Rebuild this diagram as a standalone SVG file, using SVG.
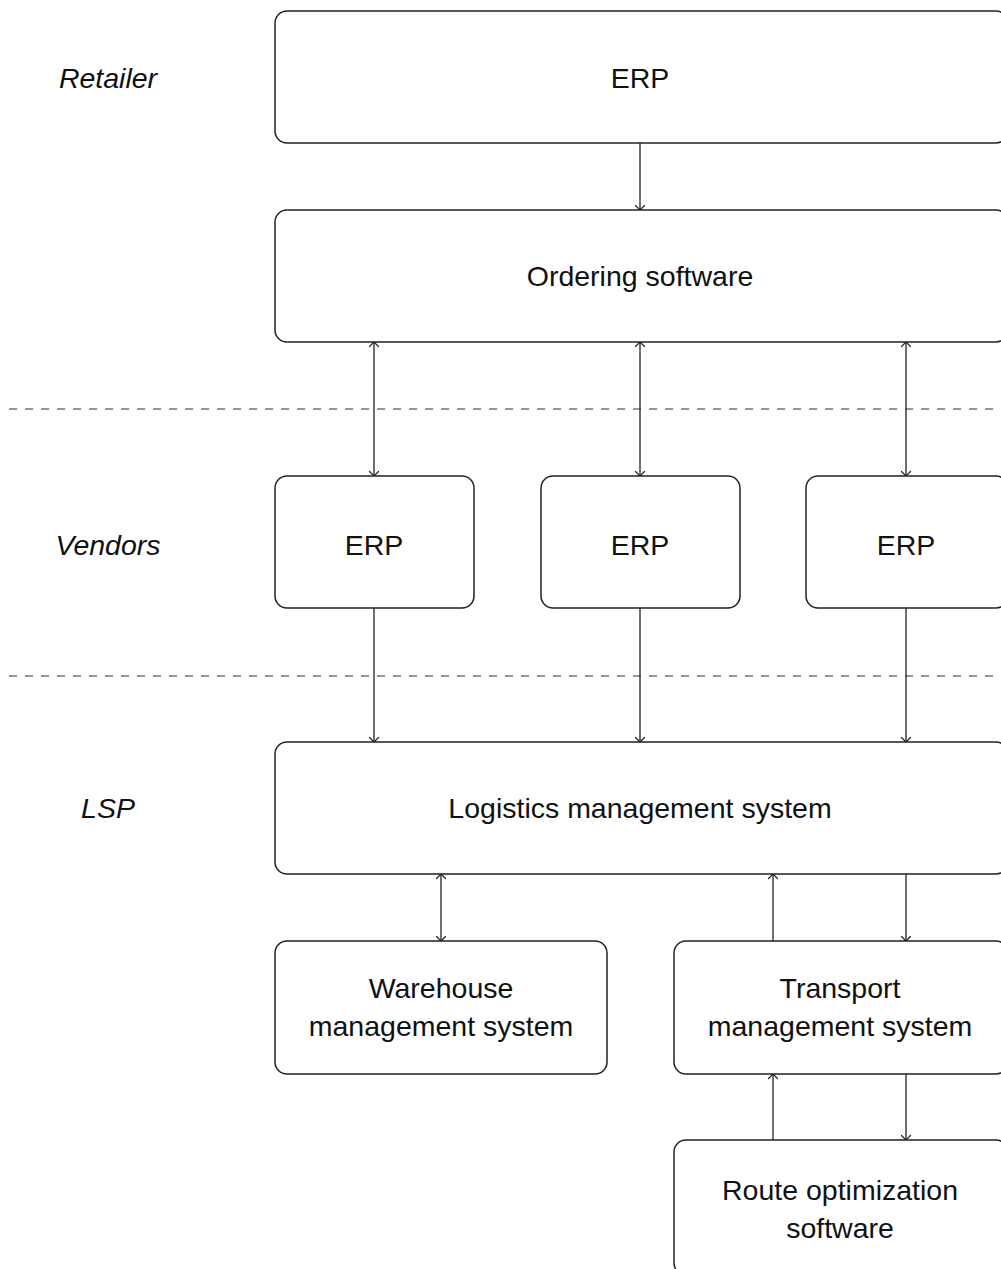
<svg xmlns="http://www.w3.org/2000/svg" width="1001" height="1269" viewBox="0 0 1001 1269">
<defs>
<marker id="ah" viewBox="-6 -6 8 12" markerWidth="8" markerHeight="12" refX="0" refY="0" markerUnits="userSpaceOnUse" orient="auto-start-reverse">
<path d="M-4.5,-4.5 L0,0 L-4.5,4.5" fill="none" stroke="#222" stroke-width="1.2" stroke-linecap="round" stroke-linejoin="round"/>
</marker>
</defs>
<style>
.box{fill:#fff;stroke:#222;stroke-width:1.5}
.t{font-family:"Liberation Sans","DejaVu Sans",sans-serif;font-size:28.5px;fill:#111;text-anchor:middle;dominant-baseline:central}
.lab{font-family:"Liberation Sans","DejaVu Sans",sans-serif;font-size:28.5px;font-style:italic;fill:#111;text-anchor:middle;dominant-baseline:central}
.dash{stroke:#777;stroke-width:1.6;stroke-dasharray:8 8;fill:none}
.c{stroke:#222;stroke-width:1.3;fill:none}
</style>
<g id="lanes">
<line class="dash" x1="9" y1="409" x2="1001" y2="409"/>
<line class="dash" x1="9" y1="676" x2="1001" y2="676"/>
<text class="lab" x="108" y="78">Retailer</text>
<text class="lab" x="108" y="545">Vendors</text>
<text class="lab" x="108" y="808">LSP</text>
</g>
<g id="connectors">
<line class="c" x1="640" y1="143" x2="640" y2="210" marker-end="url(#ah)"/>
<line class="c" x1="374" y1="342" x2="374" y2="476" marker-start="url(#ah)" marker-end="url(#ah)"/>
<line class="c" x1="640" y1="342" x2="640" y2="476" marker-start="url(#ah)" marker-end="url(#ah)"/>
<line class="c" x1="906" y1="342" x2="906" y2="476" marker-start="url(#ah)" marker-end="url(#ah)"/>
<line class="c" x1="374" y1="608" x2="374" y2="742" marker-end="url(#ah)"/>
<line class="c" x1="640" y1="608" x2="640" y2="742" marker-end="url(#ah)"/>
<line class="c" x1="906" y1="608" x2="906" y2="742" marker-end="url(#ah)"/>
<line class="c" x1="441" y1="874" x2="441" y2="941" marker-start="url(#ah)" marker-end="url(#ah)"/>
<line class="c" x1="773" y1="941" x2="773" y2="874" marker-end="url(#ah)"/>
<line class="c" x1="906" y1="874" x2="906" y2="941" marker-end="url(#ah)"/>
<line class="c" x1="773" y1="1140" x2="773" y2="1074" marker-end="url(#ah)"/>
<line class="c" x1="906" y1="1074" x2="906" y2="1140" marker-end="url(#ah)"/>
</g>
<g id="retailer-erp">
<rect class="box" x="275" y="11" width="733" height="132" rx="12"/>
<text class="t" x="640" y="78">ERP</text>
</g>
<g id="ordering">
<rect class="box" x="275" y="210" width="733" height="132" rx="12"/>
<text class="t" x="640" y="276">Ordering software</text>
</g>
<g id="vendor-erp-1">
<rect class="box" x="275" y="476" width="199" height="132" rx="12"/>
<text class="t" x="374" y="545">ERP</text>
</g>
<g id="vendor-erp-2">
<rect class="box" x="541" y="476" width="199" height="132" rx="12"/>
<text class="t" x="640" y="545">ERP</text>
</g>
<g id="vendor-erp-3">
<rect class="box" x="806" y="476" width="202" height="132" rx="12"/>
<text class="t" x="906" y="545">ERP</text>
</g>
<g id="lms">
<rect class="box" x="275" y="742" width="733" height="132" rx="12"/>
<text class="t" x="640" y="808">Logistics management system</text>
</g>
<g id="wms">
<rect class="box" x="275" y="941" width="332" height="133" rx="12"/>
<text class="t" x="441" y="988">Warehouse</text>
<text class="t" x="441" y="1026">management system</text>
</g>
<g id="tms">
<rect class="box" x="674" y="941" width="334" height="133" rx="12"/>
<text class="t" x="840" y="988">Transport</text>
<text class="t" x="840" y="1026">management system</text>
</g>
<g id="route">
<rect class="box" x="674" y="1140" width="334" height="135" rx="12"/>
<text class="t" x="840" y="1190">Route optimization</text>
<text class="t" x="840" y="1228">software</text>
</g>
</svg>
